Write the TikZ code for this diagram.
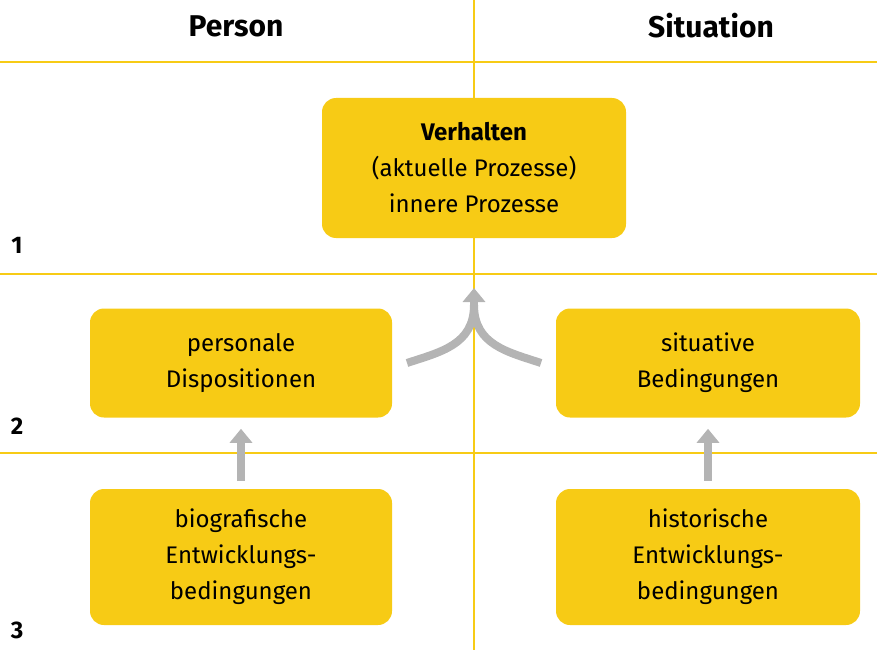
\documentclass[tikz,border=0pt]{standalone}
\usepackage{fontspec}
\setmainfont{Fira Sans}
\usetikzlibrary{arrows.meta}
\definecolor{ylw}{HTML}{F7CB15}
\definecolor{gry}{HTML}{B4B4B4}
\tikzset{
 box/.style={fill=ylw,rounded corners=14pt,inner sep=0pt,align=center,font=\fontsize{24}{36}\selectfont},
 grid/.style={draw=ylw,line width=2.5pt},
 garrow/.style={draw=gry,line width=8pt,-{Triangle[length=14pt,width=22pt]}},
 hdr/.style={font=\bfseries\fontsize{30}{36}\selectfont},
 num/.style={font=\bfseries\fontsize{24}{28}\selectfont}
}
\begin{document}
\begin{tikzpicture}[x=1pt,y=-1pt]
\useasboundingbox (0,0) rectangle (877,650);
\draw[grid] (0,62) -- (877,62);
\draw[grid] (0,274) -- (877,274);
\draw[grid] (0,453) -- (877,453);
\draw[grid] (474,0) -- (474,650);
\node[hdr] (hp) at (236,26) {Person};
\node[hdr] (hs) at (711,26) {Situation};
\node[num] (n1) at (17,245) {1};
\node[num] (n2) at (17,426) {2};
\node[num] (n3) at (17,630) {3};
\node[box,minimum width=304pt,minimum height=140pt] (v) at (474,168) {\textbf{Verhalten}\\(aktuelle Prozesse)\\innere Prozesse};
\node[box,minimum width=302pt,minimum height=109pt] (p) at (241,363) {personale\\Dispositionen};
\node[box,minimum width=304pt,minimum height=109pt] (s) at (708,363) {situative\\Bedingungen};
\node[box,minimum width=302pt,minimum height=136pt] (b) at (241,557) {biografische\\Entwicklungs-\\bedingungen};
\node[box,minimum width=304pt,minimum height=136pt] (h) at (708,557) {historische\\Entwicklungs-\\bedingungen};
\coordinate (tip) at (474,288);
\draw[garrow] (b.north) ++(0,-8) -- ++(0,-52);
\draw[garrow] (h.north) ++(0,-8) -- ++(0,-52);
\draw[draw=gry,line width=8pt] (407,363) .. controls (440,352) and (474,345) .. (474,305);
\draw[draw=gry,line width=8pt] (541,363) .. controls (508,352) and (474,345) .. (474,305);
\draw[garrow] (474,312) -- (tip);
\end{tikzpicture}
\end{document}
